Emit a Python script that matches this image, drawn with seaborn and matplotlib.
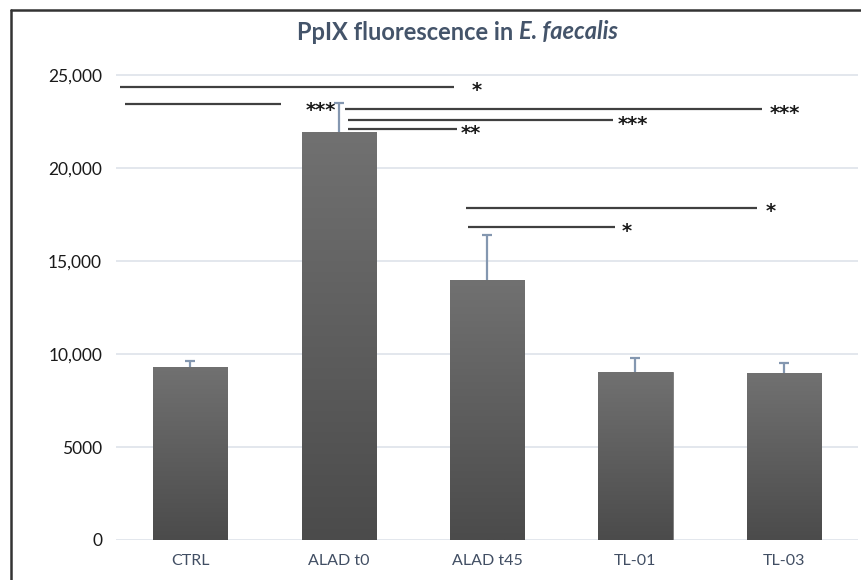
import numpy as np
import pandas as pd
import matplotlib
matplotlib.use("Agg")
import matplotlib.pyplot as plt
import matplotlib.transforms as mtransforms
from matplotlib.lines import Line2D
import seaborn as sns

# ---- data ----
categories = ["CTRL", "ALAD t0", "ALAD t45", "TL-01", "TL-03"]
values = [9320, 21920, 13980, 9050, 8960]
errors = [320, 1580, 2400, 720, 570]
yticks = [0, 5000, 10000, 15000, 20000, 25000]
ytick_labels = ["0", "5000", "10,000", "15,000", "20,000", "25,000"]

# significance brackets
sig_x0 = [-0.47, -0.44, 1.04, 1.06, 1.06, 1.86, 1.87]
sig_x1 = [1.78, 0.61, 3.85, 2.85, 1.80, 3.82, 2.86]
sig_y = [24380, 23425, 23170, 22565, 22100, 17865, 16830]
sig_labels = ["*", "", "***", "***", "**", "*", "*"]
sig_label_x = [1.93, None, 4.01, 2.98, 1.89, 3.91, 2.94]
extra_label = ("***", 0.88, 23300)

sns.set_theme(style="white")
plt.rcParams["font.family"] = ["Lato", "DejaVu Sans"]

df = pd.DataFrame({"cat": categories, "val": values})

fig = plt.figure(figsize=(8.62, 5.80), dpi=100)
ax = fig.add_axes([116/862, 40/580, (858-116)/862, 480/580])

sns.barplot(data=df, x="cat", y="val", color="#606060", width=0.5,
            errorbar=None, ax=ax, zorder=3, edgecolor="#7a7a7a", linewidth=0.6)

YMAX = 480/18.6*1000

# gradient fill on bars
grad = np.linspace(0, 1, 256).reshape(-1, 1)
cmap = matplotlib.colors.LinearSegmentedColormap.from_list("g", ["#4b4b4b", "#717171"])
for p in ax.patches:
    x0, y0 = p.get_x(), p.get_y()
    w, h = p.get_width(), p.get_height()
    im = ax.imshow(grad, cmap=cmap, extent=[x0, x0 + w, y0, y0 + h],
                   origin="lower", aspect="auto", zorder=3.5)
    im.set_clip_path(p)
ax.set_aspect("auto")
ax.set_xlim(-0.5, 4.5)
ax.set_ylim(0, YMAX)

# error bars (upper only)
xs = np.arange(len(categories))
eb = ax.errorbar(xs, values, yerr=[np.zeros(len(errors)), errors], fmt="none",
                 ecolor="#8497B0", elinewidth=1.6, capsize=3.5, capthick=1.6, zorder=4)
caps = eb[1]
if len(caps) >= 2:
    caps[0].set_visible(False)

# gridlines
ax.set_yticks(yticks)
ax.set_yticklabels(ytick_labels)
for yv in yticks:
    ax.axhline(yv, color="#E1E5EC", lw=1.3, zorder=1)

for s in ax.spines.values():
    s.set_visible(False)
ax.tick_params(axis="y", length=0, pad=10, labelsize=12.5, labelcolor="#1a1a1a")
ax.tick_params(axis="x", length=0, pad=10, labelsize=11.5, labelcolor="#414e63")
ax.set_xlabel("")
ax.set_ylabel("")

star_off = mtransforms.ScaledTranslation(0, -3/72, fig.dpi_scale_trans)
star_tr = ax.transData + star_off

# significance lines
for x0, x1, yv, lab, lx in zip(sig_x0, sig_x1, sig_y, sig_labels, sig_label_x):
    ax.plot([x0, x1], [yv, yv], color="#404040", lw=1.6, clip_on=False,
            zorder=5, solid_capstyle="butt")
    if lab:
        ax.text(lx, yv, lab, ha="center", va="center", fontsize=14,
                fontweight="bold", color="#1a1a1a", clip_on=False,
                family=["DejaVu Sans"], transform=star_tr)
ax.text(extra_label[1], extra_label[2], extra_label[0], ha="center",
        va="center", fontsize=14, fontweight="bold", color="#1a1a1a",
        family=["DejaVu Sans"], transform=star_tr)

# title built from an upright and an italic piece
title_main = "PpIX fluorescence in "
title_ital = "E. faecalis"
r = fig.canvas.get_renderer()
ty = 1 - 32/580
tm = fig.text(0, ty, title_main, ha="left", va="center",
              fontsize=17, fontweight="bold", color="#44546A")
ti = fig.text(0, ty, title_ital, ha="left", va="center",
              fontsize=17, fontweight="bold", style="italic", color="#44546A")
wm = tm.get_window_extent(r).width
wi = ti.get_window_extent(r).width
start = 458 - (wm + wi) / 2
tm.set_x(start / 862)
ti.set_x((start + wm) / 862)

# outer frame
fig.add_artist(Line2D([11/862, 11/862], [0, 1 - 10/580], color="#333333", lw=1.8,
                      transform=fig.transFigure))
fig.add_artist(Line2D([11/862, 1], [1 - 10/580, 1 - 10/580], color="#333333", lw=1.8,
                      transform=fig.transFigure))

fig.savefig("out.png", dpi=100, facecolor="white")
